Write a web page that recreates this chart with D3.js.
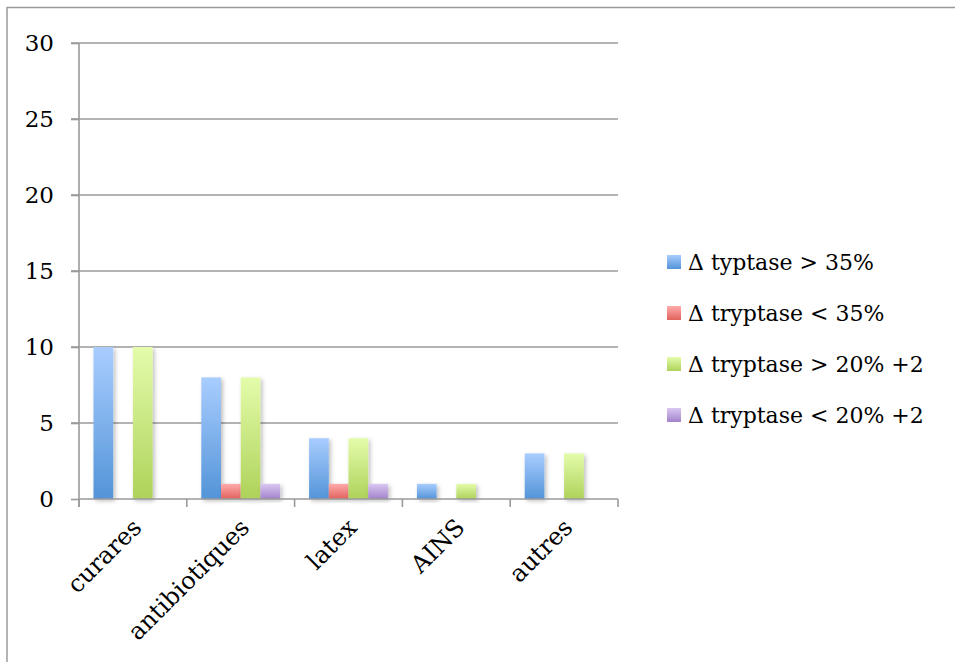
<!DOCTYPE html>
<html>
<head>
<meta charset="utf-8">
<script src="https://cdn.jsdelivr.net/npm/d3@7"></script>
<style>
  body { margin: 0; background: #fff; }
  svg { display: block; }
  text { font-family: "DejaVu Serif", "Liberation Serif", serif; fill: #000; }
</style>
</head>
<body>
<svg id="chart" width="955" height="662"></svg>
<script>
const categories = ["curares", "antibiotiques", "latex", "AINS", "autres"];
const seriesNames = ["Δ typtase > 35%", "Δ tryptase < 35%", "Δ tryptase > 20% +2", "Δ tryptase < 20% +2"];
const serie1 = [10, 8, 4, 1, 3];
const serie2 = [0, 1, 1, 0, 0];
const serie3 = [10, 8, 4, 1, 3];
const serie4 = [0, 1, 1, 0, 0];
const yTicks = [0, 5, 10, 15, 20, 25, 30];

const seriesValues = [serie1, serie2, serie3, serie4];
const gradStops = [
  ["#a9cdff", "#5394d8"],
  ["#ffacac", "#e0625c"],
  ["#e4fcab", "#aed25a"],
  ["#dac7f3", "#a283ca"]
];

const svg = d3.select("#chart");
const W = 955, H = 662;
const m = { left: 79, right: 618, top: 43, bottom: 499 };

// frame
svg.append("line").attr("x1", 7).attr("x2", W).attr("y1", 7.5).attr("y2", 7.5)
  .attr("stroke", "#9a9a9a").attr("stroke-width", 1.5);
svg.append("line").attr("x1", 7).attr("x2", 7).attr("y1", 7).attr("y2", H)
  .attr("stroke", "#9a9a9a").attr("stroke-width", 1.5);

const defs = svg.append("defs");
gradStops.forEach((s, i) => {
  const g = defs.append("linearGradient").attr("id", "g" + i)
    .attr("x1", 0).attr("y1", 0).attr("x2", 0).attr("y2", 1);
  g.append("stop").attr("offset", "0%").attr("stop-color", s[0]);
  g.append("stop").attr("offset", "100%").attr("stop-color", s[1]);
});
const f = defs.append("filter").attr("id", "shadow")
  .attr("x", "-30%").attr("y", "-10%").attr("width", "180%").attr("height", "130%");
f.append("feDropShadow").attr("dx", 2).attr("dy", 2).attr("stdDeviation", 2)
  .attr("flood-color", "#000").attr("flood-opacity", 0.25);

const x = d3.scaleBand().domain(categories).range([m.left, m.right]).paddingInner(0).paddingOuter(0);
const innerX = d3.scaleBand().domain(d3.range(4)).range([14.5, x.bandwidth() - 14.5]);
const y = d3.scaleLinear().domain([0, 30]).range([m.bottom, m.top]);

// gridlines
svg.append("g").selectAll("line").data(yTicks.filter(d => d > 0)).join("line")
  .attr("x1", m.left - 8).attr("x2", m.right)
  .attr("y1", d => y(d)).attr("y2", d => y(d))
  .attr("stroke", "#9a9a9a").attr("stroke-width", 1.6);

// bars
const groups = svg.append("g").selectAll("g").data(categories).join("g")
  .attr("transform", d => `translate(${x(d)},0)`);
groups.selectAll("rect")
  .data((c, ci) => seriesValues.map((s, si) => ({ si, v: s[ci] })).filter(d => d.v > 0))
  .join("rect")
  .attr("x", d => innerX(d.si))
  .attr("width", innerX.bandwidth())
  .attr("y", d => y(d.v))
  .attr("height", d => y(0) - y(d.v))
  .attr("fill", d => `url(#g${d.si})`)
  .attr("filter", "url(#shadow)");

// y axis
const yAxis = d3.axisLeft(y).tickValues(yTicks).tickSize(8).tickPadding(17);
const ya = svg.append("g").attr("transform", `translate(${m.left},0)`).call(yAxis);
ya.select(".domain").attr("stroke", "#9a9a9a").attr("stroke-width", 1.6)
  .attr("d", `M0,${m.top}V${m.bottom + 8}`);
ya.selectAll(".tick line").attr("stroke", "#9a9a9a").attr("stroke-width", 1.6);
ya.selectAll(".tick text").style("font-size", "23px")
  .style("font-family", '"DejaVu Serif", serif').attr("fill", "#000");

// x axis
const xBoundaries = categories.map(c => x(c)).concat([m.right]);
svg.append("line").attr("x1", m.left).attr("x2", m.right).attr("y1", m.bottom).attr("y2", m.bottom)
  .attr("stroke", "#9a9a9a").attr("stroke-width", 1.6);
svg.append("g").selectAll("line").data(xBoundaries).join("line")
  .attr("x1", d => d).attr("x2", d => d).attr("y1", m.bottom).attr("y2", m.bottom + 8)
  .attr("stroke", "#9a9a9a").attr("stroke-width", 1.6);
svg.append("g").selectAll("text").data(categories).join("text")
  .attr("transform", d => `translate(${x(d) + x.bandwidth() / 2 + 4},${m.bottom + 24}) rotate(-45)`)
  .attr("text-anchor", "end")
  .attr("dy", "0.35em")
  .style("font-size", "24px")
  .text(d => d);

// legend
const lg = svg.append("g").selectAll("g").data(seriesNames).join("g")
  .attr("transform", (d, i) => `translate(667,${262 + i * 51})`);
lg.append("rect").attr("x", 0).attr("y", -7).attr("width", 14).attr("height", 14)
  .attr("fill", (d, i) => `url(#g${i})`);
lg.append("text").attr("x", 21).attr("y", 0).attr("dy", "0.35em")
  .style("font-size", "22px").text(d => d);
</script>
</body>
</html>
